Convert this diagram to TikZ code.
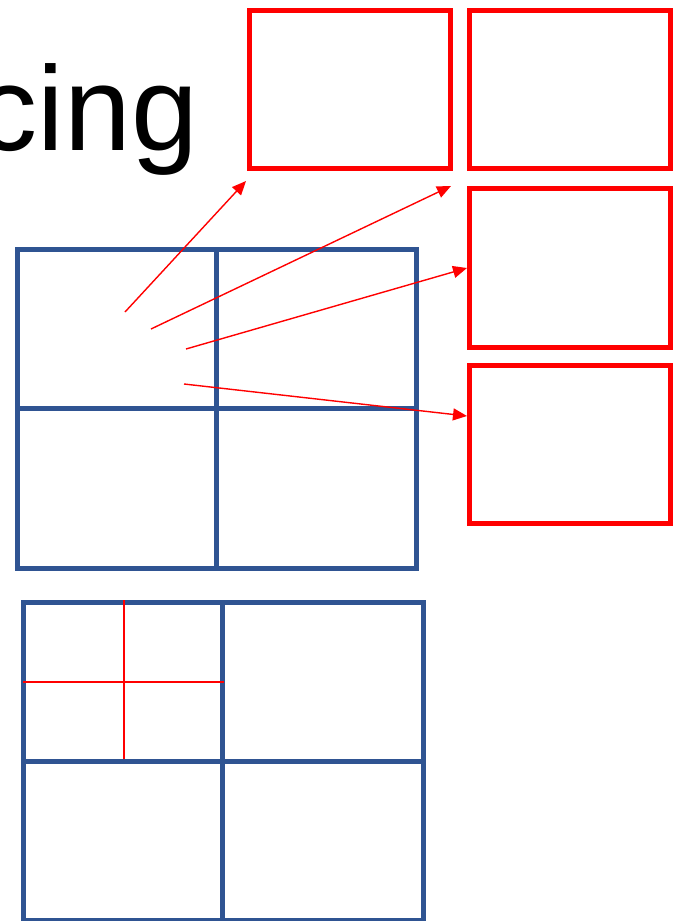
\documentclass[tikz,border=0pt]{standalone}
\usepackage{fontspec}
\setmainfont{Liberation Sans}
\usetikzlibrary{arrows.meta}
\definecolor{gridblue}{RGB}{47,84,146}
\begin{document}
\begin{tikzpicture}[x=1pt,y=-1pt,
  redbox/.style={draw=red,line width=5pt,minimum width=201pt,minimum height=158pt,inner sep=0pt,outer sep=0pt},
  cell/.style={draw=gridblue,line width=5pt,inner sep=0pt,outer sep=0pt},
  arr/.style={draw=red,line width=1.4pt,-{Triangle[length=14pt,width=12pt]}},
  thinred/.style={draw=red,line width=1.2pt}]
\useasboundingbox (0,0) rectangle (679,921);
\clip (0,0) rectangle (679,921);
% title fragment
\node[anchor=base east,inner sep=0pt,font=\fontsize{120}{120}\selectfont] (title) at (198,150) {cing};
% red boxes
\node[redbox] (r1) at (349.5,89) {};
\node[redbox] (r2) at (569.5,89) {};
\node[redbox,minimum height=159pt] (r3) at (569.5,267.5) {};
\node[redbox] (r4) at (569.5,444) {};
% grid 1
\node[cell,minimum width=199pt,minimum height=159pt] (g11) at (116.5,328.5) {};
\node[cell,minimum width=200pt,minimum height=159pt] (g12) at (316,328.5) {};
\node[cell,minimum width=199pt,minimum height=160pt] (g13) at (116.5,488) {};
\node[cell,minimum width=200pt,minimum height=160pt] (g14) at (316,488) {};
% grid 2
\node[cell,minimum width=199pt,minimum height=159pt] (g21) at (122.5,681.5) {};
\node[cell,minimum width=201pt,minimum height=159pt] (g22) at (322.5,681.5) {};
\node[cell,minimum width=199pt,minimum height=159pt] (g23) at (122.5,840.5) {};
\node[cell,minimum width=201pt,minimum height=159pt] (g24) at (322.5,840.5) {};
% red cross in grid 2
\coordinate (cvt) at (124,600);
\coordinate (cvb) at (124,759);
\coordinate (chl) at (23,682);
\coordinate (chr) at (224,682);
\draw[thinred] (cvt) -- (cvb);
\draw[thinred] (chl) -- (chr);
% arrows
\coordinate (s1) at (125,312);
\coordinate (e1) at (246,181);
\coordinate (s2) at (151,329);
\coordinate (e2) at (451,186);
\coordinate (s3) at (186,349);
\coordinate (e3) at (467,268);
\coordinate (s4) at (184,384);
\coordinate (e4) at (467,416);
\draw[arr] (s1) -- (e1);
\draw[arr] (s2) -- (e2);
\draw[arr] (s3) -- (e3);
\draw[arr] (s4) -- (e4);
\end{tikzpicture}
\end{document}
